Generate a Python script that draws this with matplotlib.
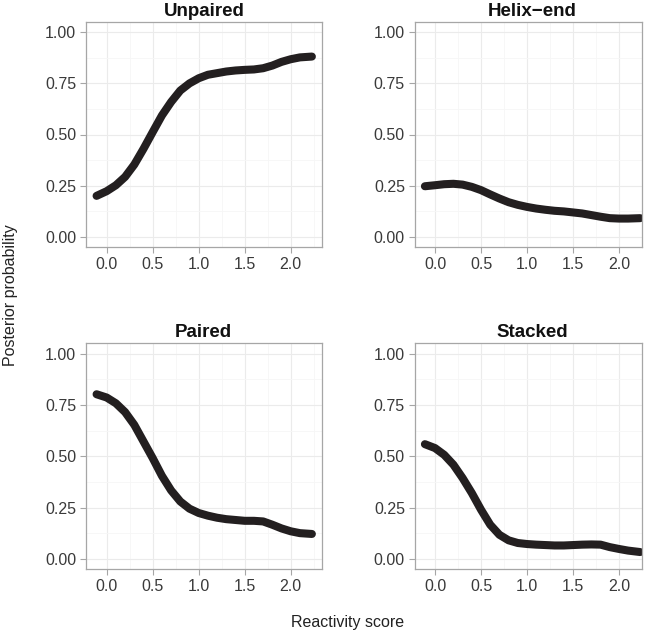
import numpy as np
import matplotlib
matplotlib.use('Agg')
import matplotlib.pyplot as plt
from matplotlib.ticker import MultipleLocator

plt.rcParams['font.family'] = ['Liberation Sans', 'DejaVu Sans']

# reactivity score grid
score = [-0.11, 0.0, 0.1, 0.2, 0.3, 0.4, 0.5, 0.6, 0.7, 0.8, 0.9, 1.0, 1.1,
         1.2, 1.3, 1.4, 1.5, 1.6, 1.7, 1.8, 1.9, 2.0, 2.1, 2.23]

unpaired = [0.200, 0.223, 0.252, 0.293, 0.353, 0.430, 0.512, 0.593, 0.659,
            0.715, 0.750, 0.775, 0.792, 0.800, 0.808, 0.813, 0.816, 0.818,
            0.824, 0.837, 0.855, 0.868, 0.877, 0.881]
helix_end = [0.247, 0.252, 0.257, 0.259, 0.255, 0.244, 0.228, 0.207, 0.187,
             0.169, 0.156, 0.146, 0.138, 0.132, 0.127, 0.124, 0.119, 0.114,
             0.106, 0.098, 0.091, 0.089, 0.089, 0.091]
paired = [0.802, 0.786, 0.758, 0.715, 0.653, 0.572, 0.491, 0.405, 0.334,
          0.280, 0.245, 0.224, 0.211, 0.201, 0.194, 0.190, 0.186, 0.186,
          0.183, 0.167, 0.149, 0.135, 0.126, 0.122]
stacked = [0.559, 0.540, 0.507, 0.459, 0.394, 0.321, 0.240, 0.167, 0.118,
           0.091, 0.078, 0.073, 0.070, 0.068, 0.066, 0.066, 0.068, 0.070,
           0.071, 0.070, 0.058, 0.049, 0.041, 0.034]

titles = ['Unpaired', 'Helix\u2212end', 'Paired', 'Stacked']
series = [unpaired, helix_end, paired, stacked]

W, H = 650, 635
fig = plt.figure(figsize=(W / 100, H / 100), dpi=100)
fig.patch.set_facecolor('white')

# panel boxes in pixels: left, right, top, bottom, xlim
boxes = [(86, 322, 22, 247, (-0.225, 2.34)),
         (414.7, 641.7, 22, 247, (-0.221, 2.247)),
         (86, 322, 343.3, 569.3, (-0.225, 2.34)),
         (414.7, 641.7, 343.3, 569.3, (-0.221, 2.247))]
title_pos = [(204, 11), (532, 11), (203, 332), (532, 332)]

border = '#a6a6a6'
for (l, r, t, b, xl), name, yv, (tx, ty) in zip(boxes, titles, series, title_pos):
    ax = fig.add_axes([l / W, 1 - b / H, (r - l) / W, (b - t) / H])
    ax.set_xlim(*xl)
    ax.set_ylim(-0.05, 1.05)
    ax.xaxis.set_major_locator(MultipleLocator(0.5))
    ax.xaxis.set_minor_locator(MultipleLocator(0.25))
    ax.yaxis.set_major_locator(MultipleLocator(0.25))
    ax.yaxis.set_minor_locator(MultipleLocator(0.125))
    ax.grid(which='major', color='#ebebeb', lw=0.8)
    ax.grid(which='minor', color='#f6f6f6', lw=0.6)
    ax.set_axisbelow(True)
    ax.xaxis.set_major_formatter(plt.FuncFormatter(lambda v, p: f'{v:.1f}'))
    ax.yaxis.set_major_formatter(plt.FuncFormatter(lambda v, p: f'{v:.2f}'))
    ax.tick_params(which='major', length=4, width=0.8, color=border,
                   labelsize=11.5, labelcolor='#3a3a3a', pad=3)
    ax.tick_params(which='minor', length=0)
    for s in ax.spines.values():
        s.set_color(border)
        s.set_linewidth(0.9)
    ax.plot(score, yv, color='#231f20', lw=5.8, solid_capstyle='round',
            solid_joinstyle='round')
    fig.text(tx / W, 1 - ty / H, name, ha='center', va='center',
             fontsize=13.5, fontweight='bold', color='#111111')

fig.text(348 / W, 1 - 622 / H, 'Reactivity score', ha='center', va='center',
         fontsize=11.5, color='#222222')
fig.text(11 / W, 1 - 295 / H, 'Posterior probability', ha='center', va='center',
         rotation=90, fontsize=11.5, color='#222222')

fig.savefig('out.png', dpi=100)
